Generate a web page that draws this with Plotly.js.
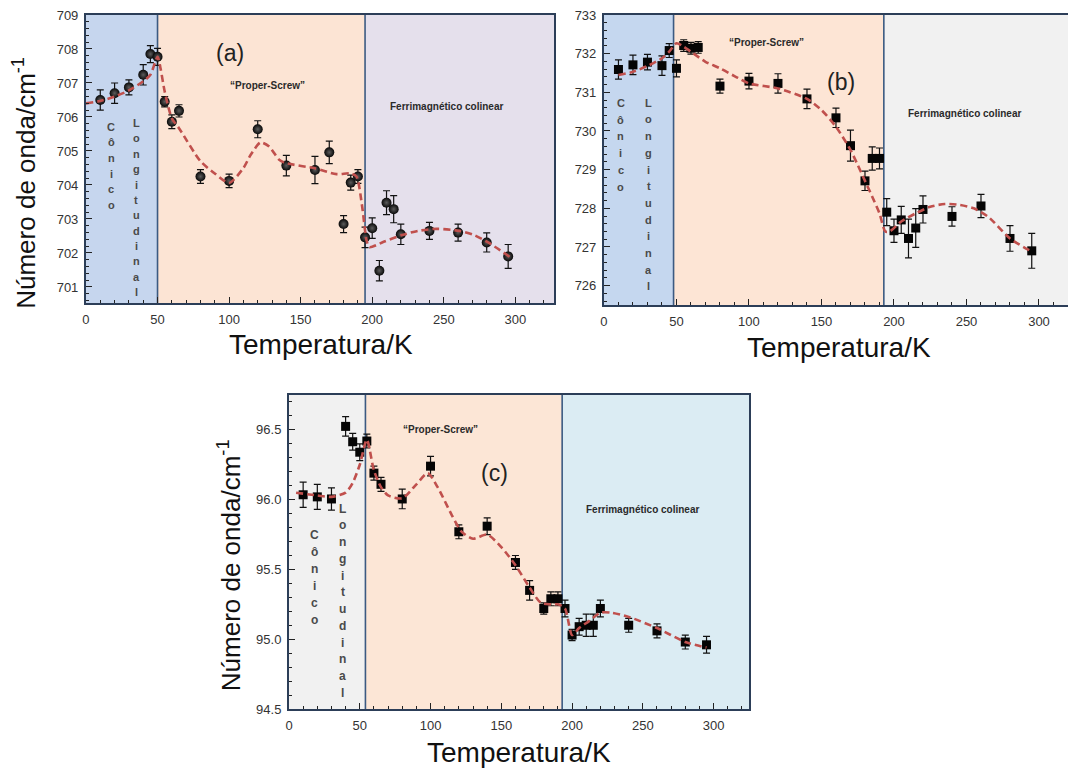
<!DOCTYPE html>
<html>
<head>
<meta charset="utf-8">
<script src="https://cdn.plot.ly/plotly-3.0.1.min.js"></script>
<style>
  html, body { margin: 0; padding: 0; background: #ffffff; }
  #chart { width: 1068px; height: 768px; }
</style>
</head>
<body>
<div id="chart"></div>
<script>
// ---------- Panel (a): measured wavenumbers, circles ----------
const aTemp = [10, 20, 30, 40, 45, 50, 55, 60, 65, 80, 100, 120, 140, 160, 170, 180, 185, 190, 195, 200, 205, 210, 215, 220, 240, 260, 280, 295];
const aWave = [706.50, 706.70, 706.87, 707.24, 707.85, 707.77, 706.45, 705.86, 706.18, 704.25, 704.12, 705.64, 704.57, 704.44, 704.96, 702.85, 704.07, 704.25, 702.46, 702.73, 701.48, 703.48, 703.29, 702.55, 702.65, 702.60, 702.31, 701.90];
const aErr  = [0.30, 0.30, 0.22, 0.30, 0.25, 0.25, 0.15, 0.20, 0.18, 0.20, 0.20, 0.25, 0.30, 0.40, 0.33, 0.25, 0.22, 0.20, 0.30, 0.30, 0.30, 0.35, 0.40, 0.30, 0.25, 0.25, 0.28, 0.35];
// guide curve (a)
const aFitT = [0, 10, 20, 30, 40, 45, 50, 52, 55, 60, 65, 80, 90, 100, 110, 115, 122, 128, 135, 140, 160, 175, 185, 189, 193, 196, 198, 208, 221, 232, 245, 261, 271, 281, 296];
const aFitW = [706.40, 706.47, 706.60, 706.78, 707.05, 707.24, 707.77, 707.45, 706.75, 705.96, 705.67, 704.70, 704.34, 704.06, 704.50, 704.88, 705.25, 705.13, 704.74, 704.64, 704.49, 704.32, 704.34, 704.25, 703.36, 702.38, 702.17, 702.33, 702.53, 702.65, 702.71, 702.65, 702.53, 702.31, 701.89];
const aEdges = [50, 195];

// ---------- Panel (b): measured wavenumbers, squares ----------
const bTemp = [10, 20, 30, 40, 45, 50, 55, 60, 65, 80, 100, 120, 140, 160, 170, 180, 185, 190, 195, 200, 205, 210, 215, 220, 240, 260, 280, 295];
const bWave = [731.59, 731.71, 731.78, 731.69, 732.08, 731.62, 732.21, 732.14, 732.16, 731.16, 731.29, 731.23, 730.83, 730.34, 729.62, 728.71, 729.29, 729.29, 727.90, 727.42, 727.70, 727.22, 727.49, 727.97, 727.79, 728.06, 727.22, 726.90];
const bErr  = [0.25, 0.25, 0.20, 0.25, 0.18, 0.22, 0.15, 0.15, 0.15, 0.18, 0.20, 0.25, 0.25, 0.25, 0.40, 0.25, 0.30, 0.27, 0.35, 0.30, 0.35, 0.50, 0.50, 0.35, 0.25, 0.30, 0.33, 0.45];
// guide curve (b)
const bFitT = [10, 20, 30, 40, 45, 50, 55, 60, 70, 80, 90, 100, 120, 140, 150, 160, 170, 175, 180, 185, 190, 194, 197, 205, 215, 225, 235, 245, 255, 265, 280, 295];
const bFitW = [731.45, 731.53, 731.68, 731.88, 732.05, 732.27, 732.18, 732.05, 731.79, 731.62, 731.42, 731.23, 731.10, 730.83, 730.54, 730.11, 729.51, 729.12, 728.71, 728.30, 727.87, 727.40, 727.40, 727.66, 727.87, 728.04, 728.11, 728.09, 728.00, 727.78, 727.22, 726.88];
const bEdges = [48, 193];

// ---------- Panel (c): measured wavenumbers, squares ----------
const cTemp = [10, 20, 30, 40, 45, 50, 55, 60, 65, 80, 100, 120, 140, 160, 170, 180, 185, 190, 195, 200, 205, 210, 215, 220, 240, 260, 280, 295];
const cWave = [96.035, 96.020, 96.005, 96.525, 96.415, 96.340, 96.420, 96.190, 96.110, 96.005, 96.240, 95.770, 95.810, 95.550, 95.350, 95.220, 95.290, 95.290, 95.220, 95.030, 95.090, 95.100, 95.100, 95.220, 95.100, 95.060, 94.980, 94.960];
const cErr  = [0.09, 0.09, 0.08, 0.07, 0.06, 0.06, 0.05, 0.05, 0.05, 0.07, 0.07, 0.05, 0.06, 0.05, 0.07, 0.04, 0.05, 0.05, 0.06, 0.04, 0.06, 0.08, 0.08, 0.06, 0.05, 0.05, 0.05, 0.06];
// guide curve (c)
const cFitT = [5, 20, 30, 40, 45, 50, 55, 60, 65, 70, 80, 90, 98, 105, 115, 122, 130, 140, 150, 160, 170, 178, 185, 190, 195, 200, 205, 212, 220, 228, 240, 260, 280, 295];
const cFitW = [96.05, 96.03, 96.02, 96.05, 96.12, 96.25, 96.43, 96.21, 96.09, 96.03, 96.01, 96.11, 96.19, 96.09, 95.89, 95.77, 95.72, 95.75, 95.66, 95.53, 95.37, 95.26, 95.25, 95.25, 95.22, 95.03, 95.08, 95.13, 95.19, 95.19, 95.16, 95.08, 94.98, 94.94];
const cEdges = [54, 193];

// ---------- Labels ----------
const phaseLow = 'Cônico';
const phaseLong = 'Longitudinal';
const phaseMid = '“Proper-Screw”';
const phaseHigh = 'Ferrimagnético colinear';
const xTitle = 'Temperatura/K';
const yTitle = 'Número de onda/cm<sup>-1</sup>';

const SANS = 'Liberation Sans, Arial, sans-serif';
const FIT_COLOR = '#c0504d';

function points(x, y, err, xa, ya, marker) {
  return {
    x: x, y: y, xaxis: xa, yaxis: ya, type: 'scatter', mode: 'markers',
    marker: marker,
    error_y: { type: 'data', array: err, visible: true, color: '#111', thickness: 1.2, width: 3.5 },
    hoverinfo: 'skip', showlegend: false
  };
}
function guide(x, y, xa, ya) {
  return {
    x: x, y: y, xaxis: xa, yaxis: ya, type: 'scatter', mode: 'lines',
    line: { color: FIT_COLOR, width: 2.6, dash: '7px,4px', shape: 'spline', smoothing: 0.7 },
    hoverinfo: 'skip', showlegend: false
  };
}

const sphere = { symbol: 'circle', size: 10, color: '#080808', gradient: { type: 'radial', color: '#5c5c5c' }, line: { width: 0 } };
const square = { symbol: 'square', size: 9, color: '#050505', line: { width: 0 } };

const traces = [
  points(aTemp, aWave, aErr, 'x', 'y', sphere),
  guide(aFitT, aFitW, 'x', 'y'),
  points(bTemp, bWave, bErr, 'x2', 'y2', square),
  guide(bFitT, bFitW, 'x2', 'y2'),
  points(cTemp, cWave, cErr, 'x3', 'y3', square),
  guide(cFitT, cFitW, 'x3', 'y3')
];

function axis(domain, anchor, range, dtick, minor, fmt) {
  return {
    domain: domain, anchor: anchor, range: range, tick0: 0, dtick: dtick,
    ticks: 'inside', ticklen: 6, tickwidth: 1, tickcolor: '#222',
    minor: { ticks: 'inside', ticklen: 3, tickwidth: 1, tickcolor: '#222', dtick: minor },
    showline: true, linecolor: '#2c3e58', linewidth: 2, mirror: true,
    showgrid: false, zeroline: false, ticklabelstandoff: 3,
    tickfont: { family: SANS, size: 13, color: '#333' },
    tickformat: fmt, fixedrange: true
  };
}

// shaded phase regions and their boundaries
function regions(xa, ya, edges, xmax, colors) {
  const bounds = [0, edges[0], edges[1], xmax];
  const out = [];
  for (let i = 0; i < 3; i++) {
    out.push({ type: 'rect', xref: xa, yref: ya + ' domain', x0: bounds[i], x1: bounds[i + 1], y0: 0, y1: 1,
      fillcolor: colors[i], line: { width: 0 }, layer: 'below' });
  }
  edges.forEach(e => out.push({ type: 'line', xref: xa, yref: ya + ' domain', x0: e, x1: e, y0: 0, y1: 1,
    line: { color: '#3b5a82', width: 1.6 }, layer: 'below' }));
  return out;
}

const shapes = [].concat(
  regions('x', 'y', aEdges, 327, ['#c6d6ee', '#fce4d4', '#e5e0ec']),
  regions('x2', 'y2', bEdges, 320, ['#c5d7ef', '#fde5d5', '#f1f1f1']),
  regions('x3', 'y3', cEdges, 325, ['#f1f1f1', '#fce6d6', '#dbecf3'])
);

function note(text, xa, ya, x, y, size, opts) {
  return Object.assign({ text: text, xref: xa, yref: ya, x: x, y: y, showarrow: false,
    font: { family: SANS, size: size, color: '#222' }, xanchor: 'center', yanchor: 'middle' }, opts || {});
}
const boldNote = (t, xa, ya, x, y) => note('<b>' + t + '</b>', xa, ya, x, y, 10, { font: { family: SANS, size: 10, color: '#2a2a2a' } });
// a word written top-to-bottom, one letter per annotation
function stacked(word, xa, ya, x, yTop, step, size) {
  return word.split('').map((ch, i) => note('<b>' + ch + '</b>', xa, ya, x, yTop - i * step, size,
    { font: { family: SANS, size: size, color: '#4a4a4a' } }));
}

const annotations = [].concat(
  [
    // panel (a)
    note('(a)', 'x', 'y', 100.7, 707.88, 23),
    boldNote(phaseMid, 'x', 'y', 127, 706.94),
    boldNote(phaseHigh, 'x', 'y', 252, 706.32),
    // panel (b)
    note('(b)', 'x2', 'y2', 163.7, 731.27, 23),
    boldNote(phaseMid, 'x2', 'y2', 112, 732.28),
    boldNote(phaseHigh, 'x2', 'y2', 248.6, 730.44),
    // panel (c)
    note('(c)', 'x3', 'y3', 145.5, 96.19, 23),
    boldNote(phaseMid, 'x3', 'y3', 106.7, 96.5),
    boldNote(phaseHigh, 'x3', 'y3', 250, 95.93),
    // axis titles
    note(xTitle, 'paper', 'paper', 0.3006, 0.5508, 28, { font: { family: SANS, size: 28, color: '#111' } }),
    note(xTitle, 'paper', 'paper', 0.7856, 0.548, 28, { font: { family: SANS, size: 28, color: '#111' } }),
    note(xTitle, 'paper', 'paper', 0.486, 0.0208, 28, { font: { family: SANS, size: 28, color: '#111' } }),
    note(yTitle, 'paper', 'paper', 0.0234, 0.762, 26, { textangle: -90, font: { family: SANS, size: 26, color: '#111' } }),
    note(yTitle, 'paper', 'paper', 0.2144, 0.264, 26, { textangle: -90, font: { family: SANS, size: 26, color: '#111' } })
  ],
  stacked(phaseLow, 'x', 'y', 17.5, 705.71, 0.459, 11),
  stacked(phaseLong, 'x', 'y', 35, 705.82, 0.452, 11),
  stacked(phaseLow, 'x2', 'y2', 11.6, 730.73, 0.434, 11),
  stacked(phaseLong, 'x2', 'y2', 30.8, 730.73, 0.432, 11),
  stacked(phaseLow, 'x3', 'y3', 18.2, 95.75, 0.123, 12),
  stacked(phaseLong, 'x3', 'y3', 38, 95.936, 0.120, 12)
);

const layout = {
  width: 1068, height: 768,
  margin: { l: 0, r: 0, t: 0, b: 0 },
  paper_bgcolor: '#ffffff', plot_bgcolor: 'rgba(0,0,0,0)',
  showlegend: false, hovermode: false,
  xaxis:  axis([0.0805, 0.5187], 'y',  [0, 327], 50, 10, 'd'),
  yaxis:  axis([0.6055, 0.9805], 'x',  [700.53, 709], 1, 0.2, 'd'),
  xaxis2: axis([0.5655, 1.0],    'y2', [0, 320], 50, 10, 'd'),
  yaxis2: axis([0.6029, 0.9805], 'x2', [725.5, 733], 1, 0.2, 'd'),
  xaxis3: axis([0.2706, 0.7013], 'y3', [0, 325], 50, 10, 'd'),
  yaxis3: axis([0.0768, 0.4857], 'x3', [94.5, 96.75], 0.5, 0.1, '.1f'),
  shapes: shapes,
  annotations: annotations
};

Plotly.newPlot('chart', traces, layout, { staticPlot: true, displayModeBar: false });
</script>
</body>
</html>
